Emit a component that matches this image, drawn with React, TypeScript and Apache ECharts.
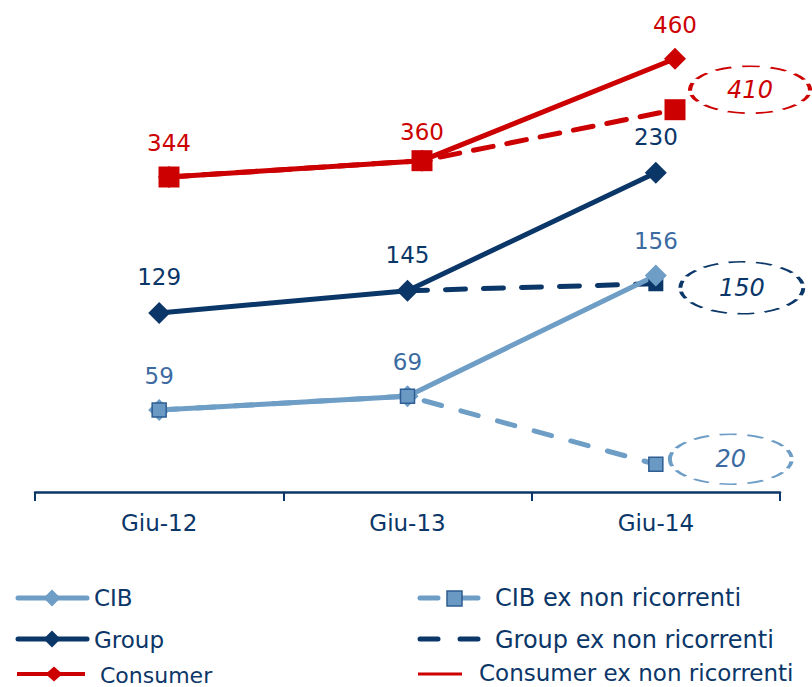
import React, { useEffect, useRef } from "react";
import * as echarts from "echarts";

// ---- data ----
const categories = ["Giu-12", "Giu-13", "Giu-14"];
const cib = [59, 69, 156];
const cibEx = [59, 69, 20];
const group = [129, 145, 230];
const groupEx: (number | null)[] = [null, 145, 150];
const consumer = [344, 360, 460];
const consumerEx = [344, 360, 410];
const legendLeft = ["CIB", "Group", "Consumer"];
const legendRight = ["CIB ex non ricorrenti", "Group ex non ricorrenti", "Consumer ex non ricorrenti"];

// ---- styles ----
const C_CIB = "#6E9EC6";
const C_CIB_LABEL = "#3C6BA2";
const C_CIB_SQ = "#6A9AC4";
const C_CIB_SQ_BORDER = "#2E5E93";
const C_GROUP = "#0B3668";
const C_CONS = "#CC0000";
const C_TEXT = "#0B3668";
const FONT = "DejaVu Sans";
const ELLIPSE = "path://M0,50 A100,50 0 1,1 200,50 A100,50 0 1,1 0,50 Z";

function ellipseMark(value: number, color: string, textColor: string, offset: number[], size: number[]) {
  return {
    symbol: ELLIPSE,
    symbolSize: size,
    symbolOffset: offset,
    silent: true,
    itemStyle: { color: "rgba(0,0,0,0)", borderColor: color, borderWidth: 2.6, borderType: [11, 7] },
    label: {
      show: true,
      position: "inside",
      formatter: String(value),
      color: textColor,
      fontStyle: "italic",
      fontSize: 24,
      fontFamily: FONT,
    },
    data: [{ coord: [categories.length - 1, value], value }],
  };
}

function diamond(cx: number, cy: number, w: number, h: number) {
  return [
    [cx - w / 2, cy],
    [cx, cy - h / 2],
    [cx + w / 2, cy],
    [cx, cy + h / 2],
  ];
}

function legendText(text: string, x: number, y: number, size: number) {
  return {
    type: "text",
    x,
    y,
    style: { text, fill: C_TEXT, fontSize: size, fontFamily: FONT, verticalAlign: "middle", align: "left" },
  };
}

function seg(x1: number, x2: number, y: number, color: string, width: number, cap = "round") {
  return {
    type: "line",
    shape: { x1, y1: y, x2, y2: y },
    style: { stroke: color, lineWidth: width, lineCap: cap },
  };
}

export default function App() {
  const ref = useRef<HTMLDivElement>(null);

  useEffect(() => {
    if (!ref.current) return;
    const chart = echarts.init(ref.current, undefined, { renderer: "svg" });
    const labelBase = { show: true, position: "top", fontSize: 23, fontFamily: FONT };

    const option: any = {
      animation: false,
      backgroundColor: "#ffffff",
      grid: [
        { left: 35, right: 32, top: 20, bottom: 195 },
        { left: 42.5, right: 10.5, top: 20, bottom: 195 },
      ],
      xAxis: [
        {
          gridIndex: 0,
          type: "category",
          data: categories,
          axisLine: { lineStyle: { color: C_GROUP, width: 2.5 } },
          axisTick: { show: true, length: 9, lineStyle: { color: C_GROUP, width: 2 } },
          axisLabel: { color: C_TEXT, fontSize: 23, fontFamily: FONT, margin: 19 },
        },
        { gridIndex: 1, type: "category", data: categories, show: false },
      ],
      yAxis: [
        { gridIndex: 0, type: "value", min: 0, max: 340, show: false, splitLine: { show: false } },
        { gridIndex: 1, type: "value", min: 35, max: 498, show: false, splitLine: { show: false } },
      ],
      series: [
        {
          name: "Group ex non ricorrenti",
          type: "line",
          xAxisIndex: 0,
          yAxisIndex: 0,
          data: groupEx,
          symbol: (_v: any, p: any) => (p.dataIndex === groupEx.length - 1 ? "rect" : "none"),
          symbolSize: 15,
          lineStyle: { color: C_GROUP, width: 5, type: [20, 18], cap: "round" },
          itemStyle: { color: C_GROUP },
          markPoint: ellipseMark(groupEx[2] as number, C_GROUP, C_GROUP, [86, 4], [123, 52]),
        },
        {
          name: "Group",
          type: "line",
          xAxisIndex: 0,
          yAxisIndex: 0,
          data: group,
          symbol: "diamond",
          symbolSize: 22,
          lineStyle: { color: C_GROUP, width: 5 },
          itemStyle: { color: C_GROUP },
          label: { ...labelBase, distance: 13, color: C_GROUP },
        },
        {
          name: "CIB",
          type: "line",
          xAxisIndex: 0,
          yAxisIndex: 0,
          data: cib,
          symbol: "diamond",
          symbolSize: 22,
          lineStyle: { color: C_CIB, width: 5 },
          itemStyle: { color: C_CIB },
          label: { ...labelBase, distance: 12, color: C_CIB_LABEL },
        },
        {
          name: "CIB ex non ricorrenti",
          type: "line",
          xAxisIndex: 0,
          yAxisIndex: 0,
          data: cibEx,
          symbol: "rect",
          symbolSize: 14,
          lineStyle: { color: C_CIB, width: 5, type: [18, 20], cap: "round" },
          itemStyle: { color: C_CIB_SQ, borderColor: C_CIB_SQ_BORDER, borderWidth: 1.5 },
          markPoint: ellipseMark(cibEx[2], C_CIB, C_CIB_LABEL, [75, -5], [122, 50]),
        },
        {
          name: "Consumer",
          type: "line",
          xAxisIndex: 1,
          yAxisIndex: 1,
          data: consumer.map((v, i) => (i === 1 ? { value: v, label: { distance: 6 } } : v)),
          symbol: "diamond",
          symbolSize: 22,
          lineStyle: { color: C_CONS, width: 5 },
          itemStyle: { color: C_CONS },
          label: { ...labelBase, distance: 11, color: C_CONS },
        },
        {
          name: "Consumer ex non ricorrenti",
          type: "line",
          xAxisIndex: 1,
          yAxisIndex: 1,
          data: consumerEx,
          symbol: "rect",
          symbolSize: 21,
          lineStyle: { color: C_CONS, width: 5, type: [20, 14], cap: "round" },
          itemStyle: { color: C_CONS },
          markPoint: ellipseMark(consumerEx[2], C_CONS, C_CONS, [75, -20], [120, 47]),
        },
      ],
      graphic: [
        // left legend
        seg(18, 87, 598, C_CIB, 5),
        { type: "polygon", shape: { points: diamond(52, 598, 17, 17) }, style: { fill: C_CIB } },
        legendText(legendLeft[0], 94, 598, 23),
        seg(18, 87, 639, C_GROUP, 5),
        { type: "polygon", shape: { points: diamond(52, 639, 17, 17) }, style: { fill: C_GROUP } },
        legendText(legendLeft[1], 94, 640, 23),
        seg(17, 85, 674, C_CONS, 4, "butt"),
        { type: "polygon", shape: { points: diamond(54, 674, 17, 15) }, style: { fill: C_CONS } },
        legendText(legendLeft[2], 100, 675, 22),
        // right legend
        seg(420, 438, 598, C_CIB, 5),
        seg(462, 478, 598, C_CIB, 5),
        {
          type: "rect",
          shape: { x: 447, y: 591, width: 15, height: 15 },
          style: { fill: C_CIB_SQ, stroke: C_CIB_SQ_BORDER, lineWidth: 1.5 },
        },
        legendText(legendRight[0], 495, 598, 24),
        seg(420, 438, 639, C_GROUP, 5),
        seg(460, 478, 639, C_GROUP, 5),
        legendText(legendRight[1], 495, 640, 24),
        seg(418, 462, 674, C_CONS, 3, "butt"),
        legendText(legendRight[2], 479, 673, 23),
      ],
    };

    chart.setOption(option);
    return () => chart.dispose();
  }, []);

  return (
    <div
      ref={ref}
      style={{ position: "absolute", left: 0, top: 0, width: 812, height: 687, background: "#fff" }}
    />
  );
}
